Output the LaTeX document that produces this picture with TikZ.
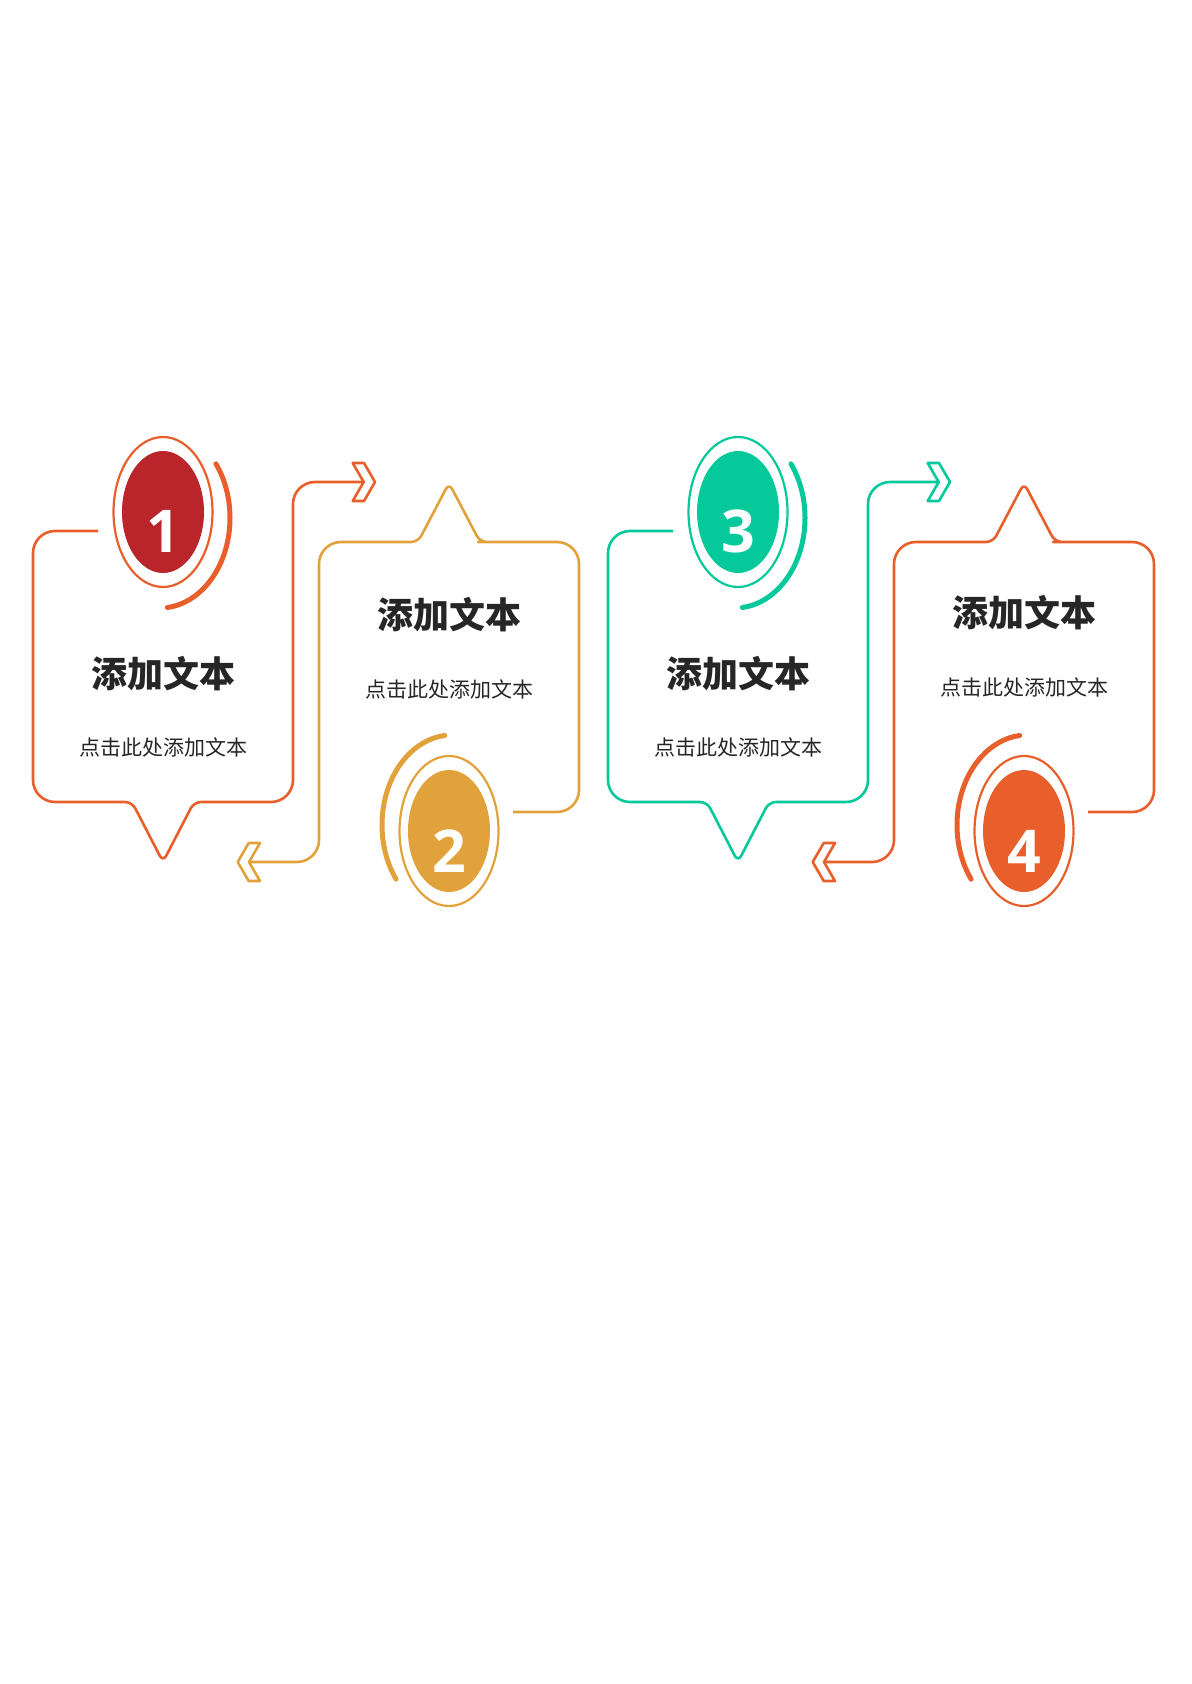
\documentclass[tikz,border=0pt]{standalone}
\usepackage{fontspec}
\newfontfamily\cjk{Noto Sans CJK SC}
\newfontfamily\numfont{Open Sans}
\usetikzlibrary{shapes.geometric}

\definecolor{orangeline}{HTML}{E95F2B}
\definecolor{redfill}{HTML}{B9252B}
\definecolor{goldline}{HTML}{E2A23B}
\definecolor{tealline}{HTML}{05C99A}
\definecolor{textdark}{HTML}{262626}

\tikzset{
  boxline/.style={line width=1.3pt, line join=round},
  ring/.style={ellipse, draw, line width=1.1pt, minimum width=49.5pt, minimum height=75pt, inner sep=0pt},
  disc/.style={ellipse, minimum width=41pt, minimum height=61pt, inner sep=0pt},
  swoosh/.style={line width=2.5pt, line cap=round},
  digit/.style={text=white, font=\numfont\bfseries\fontsize{29.5}{29.5}\selectfont},
  headtext/.style={text=textdark, font=\cjk\bfseries\fontsize{18}{20}\selectfont},
  subtext/.style={text=textdark, font=\cjk\fontsize{10.5}{12}\selectfont},
}

\begin{document}
\begin{tikzpicture}[x=0.5pt, y=-0.5pt]
\useasboundingbox (0,0) rectangle (1191,1684);

% step 1
\draw[boxline, orangeline] (98,531) [rounded corners=11pt] -- (33,531) -- (33,802) -- (100,802) [rounded corners=3.5pt] -- (132,802) -- (163,862) -- (194,802) [rounded corners=11pt] -- (293,802) -- (293,482) -- (363.7,482);
\draw[boxline, orangeline] (352.7,463) -- (364,463) -- (375,482) -- (364,501) -- (352.7,501) -- (363.7,482) -- cycle;
\node[ring, orangeline] (r1) at (163,512) {};
\node[disc, fill=redfill] (c1) at (163,512) {};
\draw[swoosh, orangeline] (160,518) ++(-37:70 and 90) arc[start angle=-37, end angle=84, x radius=70, y radius=90];
\node[digit] (n1) at (163,531) {1};
\node[headtext] (t1) at (163,674) {添加文本};
\node[subtext] (s1) at (163,747) {点击此处添加文本};

% step 2
\draw[boxline, goldline] (513,812) [rounded corners=11pt] -- (579,812) -- (579,542) -- (500,542) [rounded corners=3.5pt] -- (480,542) -- (449,483) -- (418,542) [rounded corners=11pt] -- (319,542) -- (319,862) -- (248.7,862);
\draw[boxline, goldline] (260,843) -- (248.7,843) -- (237.7,862) -- (248.7,881) -- (260,881) -- (249,862) -- cycle;
\node[ring, goldline] (r2) at (449,831) {};
\node[disc, fill=goldline] (c2) at (449,831) {};
\draw[swoosh, goldline] (452,825) ++(143:70 and 90) arc[start angle=143, end angle=264, x radius=70, y radius=90];
\node[digit] (n2) at (449,851) {2};
\node[headtext] (t2) at (449,615) {添加文本};
\node[subtext] (s2) at (449,689) {点击此处添加文本};

% step 3
\draw[boxline, tealline] (673,531) [rounded corners=11pt] -- (608,531) -- (608,802) -- (675,802) [rounded corners=3.5pt] -- (707,802) -- (738,862) -- (769,802) [rounded corners=11pt] -- (868,802) -- (868,482) -- (938.7,482);
\draw[boxline, tealline] (927.7,463) -- (939,463) -- (950,482) -- (939,501) -- (927.7,501) -- (938.7,482) -- cycle;
\node[ring, tealline] (r3) at (738,512) {};
\node[disc, fill=tealline] (c3) at (738,512) {};
\draw[swoosh, tealline] (735,518) ++(-37:70 and 90) arc[start angle=-37, end angle=84, x radius=70, y radius=90];
\node[digit] (n3) at (738,531) {3};
\node[headtext] (t3) at (738,674) {添加文本};
\node[subtext] (s3) at (738,747) {点击此处添加文本};

% step 4
\draw[boxline, orangeline] (1088,812) [rounded corners=11pt] -- (1154,812) -- (1154,542) -- (1075,542) [rounded corners=3.5pt] -- (1055,542) -- (1024,483) -- (993,542) [rounded corners=11pt] -- (894,542) -- (894,862) -- (823.7,862);
\draw[boxline, orangeline] (835,843) -- (823.7,843) -- (812.7,862) -- (823.7,881) -- (835,881) -- (824,862) -- cycle;
\node[ring, orangeline] (r4) at (1024,831) {};
\node[disc, fill=orangeline] (c4) at (1024,831) {};
\draw[swoosh, orangeline] (1027,825) ++(143:70 and 90) arc[start angle=143, end angle=264, x radius=70, y radius=90];
\node[digit] (n4) at (1024,851) {4};
\node[headtext] (t4) at (1024,613) {添加文本};
\node[subtext] (s4) at (1024,687) {点击此处添加文本};
\end{tikzpicture}
\end{document}
